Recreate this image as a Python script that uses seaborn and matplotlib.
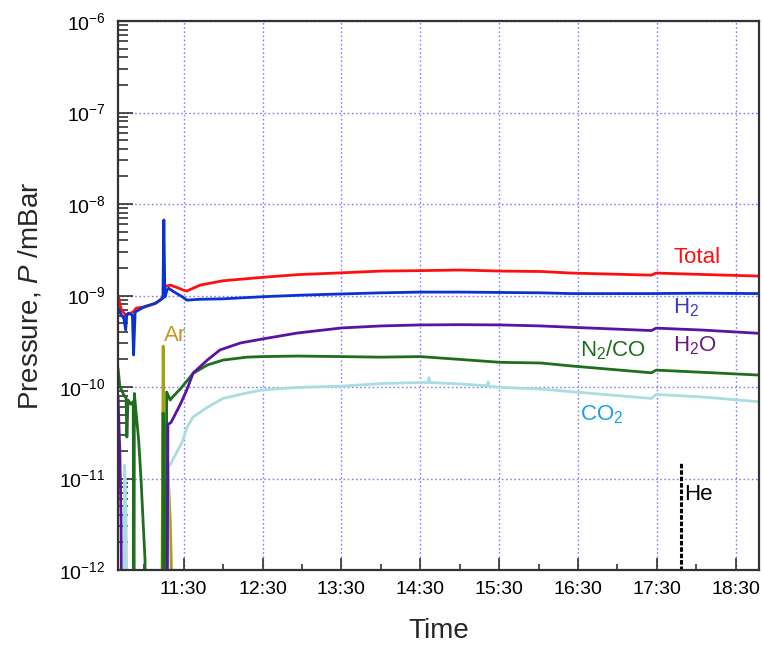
import numpy as np
import pandas as pd
import matplotlib
matplotlib.use("Agg")
import matplotlib.pyplot as plt
import matplotlib.ticker as mticker
import seaborn as sns

# ---------------- data (time in decimal hours, pressure in mBar) ----------------
FLOOR = 1e-13  # below the visible range

total_t = [10.67, 10.71, 10.77, 10.82, 10.86, 10.90, 11.01, 11.14, 11.20, 11.24, 11.25, 11.27,
           11.33, 11.43, 11.49, 11.54, 11.71, 12.00, 12.50, 12.94, 13.50, 14.00, 14.50, 15.01,
           15.52, 16.03, 16.41, 17.43, 17.49, 18.06, 18.80]
total_p = [9.8e-10, 6.9e-10, 6.1e-10, 6.4e-10, 6.6e-10, 7.3e-10, 7.5e-10, 8.2e-10, 8.9e-10, 9.6e-10,
           1.15e-9, 1.26e-9, 1.30e-9, 1.21e-9, 1.15e-9, 1.12e-9, 1.30e-9, 1.45e-9, 1.58e-9, 1.69e-9,
           1.77e-9, 1.85e-9, 1.87e-9, 1.90e-9, 1.85e-9, 1.83e-9, 1.76e-9, 1.67e-9, 1.76e-9, 1.70e-9,
           1.63e-9]

h2_t = [10.67, 10.71, 10.74, 10.765, 10.78, 10.80, 10.85, 10.865, 10.885, 11.01, 11.14, 11.20,
        11.237, 11.249, 11.262, 11.29, 11.31, 11.36, 11.43, 11.49, 11.54, 11.71, 12.00, 12.50,
        13.00, 13.50, 14.00, 14.50, 15.01, 15.52, 16.03, 16.41, 17.43, 18.06, 18.80]
h2_p = [7.3e-10, 6.1e-10, 5.7e-10, 4.2e-10, 6.2e-10, 6.4e-10, 6.1e-10, 2.24e-10, 6.6e-10, 7.6e-10,
        8.2e-10, 8.9e-10, 9.4e-10, 6.7e-9, 9.6e-10, 1.15e-9, 1.20e-9, 1.12e-9, 1.03e-9, 9.6e-10,
        8.9e-10, 9.1e-10, 9.2e-10, 9.7e-10, 1.01e-9, 1.04e-9, 1.07e-9, 1.09e-9, 1.09e-9, 1.08e-9,
        1.07e-9, 1.05e-9, 1.05e-9, 1.06e-9, 1.05e-9]

h2o_t = [10.668, 10.69, 10.706, 10.715, 11.29, 11.30, 11.34, 11.455, 11.54, 11.62, 11.80, 11.96,
         12.22, 12.50, 12.94, 13.50, 14.00, 14.50, 15.01, 15.52, 16.03, 16.41, 17.43, 17.49,
         18.06, 18.80]
h2o_p = [7.8e-11, 2.05e-11, 3.8e-12, FLOOR, FLOOR, 3.9e-11, 4.1e-11, 6.4e-11, 9.3e-11, 1.42e-10,
         1.97e-10, 2.54e-10, 3.03e-10, 3.35e-10, 3.89e-10, 4.42e-10, 4.65e-10, 4.77e-10, 4.80e-10,
         4.77e-10, 4.65e-10, 4.50e-10, 4.14e-10, 4.40e-10, 4.20e-10, 3.86e-10]

n2co_t = [10.668, 10.69, 10.74, 10.77, 10.78, 10.795, 10.83, 10.86, 10.87, 10.875, 10.90, 10.93,
          10.96, 10.985, 11.01, 11.02, 11.23, 11.24, 11.25, 11.275, 11.285, 11.33, 11.35, 11.47,
          11.62, 11.80, 12.00, 12.30, 12.50, 12.94, 13.50, 14.00, 14.50, 15.01, 15.52, 16.03,
          16.41, 17.43, 17.49, 18.06, 18.80]
n2co_p = [1.61e-10, 1.03e-10, 8.2e-11, 7.6e-11, 2.84e-11, 7.2e-11, 6.5e-11, 6.9e-11, FLOOR, 8.5e-11,
          4.9e-11, 2.6e-11, 9.6e-12, 3.5e-12, 1.3e-12, FLOOR, FLOOR, 5.2e-11, FLOOR, FLOOR,
          8.8e-11, 7.2e-11, 7.6e-11, 9.8e-11, 1.41e-10, 1.74e-10, 1.97e-10, 2.12e-10, 2.15e-10,
          2.18e-10, 2.15e-10, 2.12e-10, 2.15e-10, 2.00e-10, 1.86e-10, 1.83e-10, 1.70e-10, 1.43e-10,
          1.53e-10, 1.45e-10, 1.35e-10]

co2_t = [10.745, 10.75, 10.76, 10.77, 10.79, 11.30, 11.305, 11.33, 11.36, 11.49, 11.54, 11.62,
         11.80, 12.00, 12.30, 12.50, 12.94, 13.50, 14.00, 14.50, 14.60, 14.61, 14.62, 15.01,
         15.35, 15.36, 15.37, 15.52, 16.03, 16.41, 17.43, 17.49, 18.06, 18.80]
co2_p = [FLOOR, 1.4e-11, 9.6e-12, 3.5e-12, FLOOR, FLOOR, 1.48e-11, 1.41e-11, 1.59e-11, 2.6e-11,
         3.6e-11, 4.7e-11, 6.0e-11, 7.5e-11, 8.6e-11, 9.3e-11, 9.9e-11, 1.02e-10, 1.09e-10,
         1.12e-10, 1.12e-10, 1.27e-10, 1.12e-10, 1.08e-10, 1.03e-10, 1.14e-10, 1.02e-10, 9.9e-11,
         9.5e-11, 8.9e-11, 7.5e-11, 8.3e-11, 7.8e-11, 6.9e-11]

ar_t = [11.22, 11.24, 11.25, 11.28, 11.30, 11.33, 11.345, 11.35]
ar_p = [FLOOR, 2.8e-10, 4.4e-11, 2.6e-11, 1.34e-11, 3.5e-12, 1.0e-12, FLOOR]

he_t = [17.81, 17.81]
he_p = [FLOOR, 1.5e-11]

tick_hours = [11.5, 12.5, 13.5, 14.5, 15.5, 16.5, 17.5, 18.5]
minor_hours = [11, 12, 13, 14, 15, 16, 17, 18]
decades = [-12, -11, -10, -9, -8, -7, -6]

# ---------------- style ----------------
sns.set_style("white")
plt.rcParams["font.family"] = ["Liberation Sans", "DejaVu Sans"]
plt.rcParams["mathtext.fontset"] = "custom"
plt.rcParams["mathtext.rm"] = "Liberation Sans"
plt.rcParams["mathtext.it"] = "Liberation Sans:italic"
plt.rcParams["mathtext.bf"] = "Liberation Sans:bold"

fig = plt.figure(figsize=(7.63, 6.53), dpi=100)
ax = fig.add_axes([0.1547, 0.1271, 0.9943 - 0.1547, 0.9678 - 0.1271])

series = [
    ("Ar", ar_t, ar_p, "#a8a010"),
    ("CO2", co2_t, co2_p, "#a9dde0"),
    ("N2/CO", n2co_t, n2co_p, "#1e6e1e"),
    ("H2O", h2o_t, h2o_p, "#5a14a5"),
    ("Total", total_t, total_p, "#ff1010"),
    ("H2", h2_t, h2_p, "#0a32d2"),
]
for name, t, p, c in series:
    df = pd.DataFrame({"time": t, "pressure": p})
    sns.lineplot(data=df, x="time", y="pressure", ax=ax, color=c, lw=2.0,
                 estimator=None, sort=False, legend=False)

df_he = pd.DataFrame({"time": he_t, "pressure": he_p})
sns.lineplot(data=df_he, x="time", y="pressure", ax=ax, color="black", lw=2.2,
             estimator=None, sort=False, legend=False, linestyle=(0, (1.5, 0.6)))

ax.set_yscale("log")
ax.set_ylim(1e-12, 1e-6)
ax.set_xlim(10.668, 18.79)

major_y = [10.0 ** d for d in decades]
minor_y = [m * 10.0 ** d for d in decades[:-1] for m in range(2, 10)]
ax.yaxis.set_major_locator(mticker.FixedLocator(major_y))
ax.yaxis.set_minor_locator(mticker.FixedLocator(minor_y))
ax.yaxis.set_minor_formatter(mticker.NullFormatter())
ax.yaxis.set_major_formatter(mticker.FuncFormatter(
    lambda v, pos: r"$10^{%d}$" % int(round(np.log10(v)))))

ax.xaxis.set_major_locator(mticker.FixedLocator(tick_hours))
ax.xaxis.set_minor_locator(mticker.FixedLocator(minor_hours))
ax.xaxis.set_major_formatter(mticker.FuncFormatter(
    lambda h, pos: "%d:%02d" % (int(h), int(round((h % 1) * 60)))))

ax.tick_params(axis="both", which="both", direction="in", top=False, right=False,
               left=True, bottom=True, colors="#222222", labelcolor="black", width=1.1)
ax.tick_params(axis="x", which="major", length=9, labelsize=14, pad=8)
ax.tick_params(axis="x", which="minor", length=4)
ax.tick_params(axis="y", which="major", length=11, labelsize=14, pad=9)
ax.tick_params(axis="y", which="minor", length=7)

ax.grid(True, which="major", color="#8080ff", linestyle=(0, (1.2, 1.8)), lw=1.0)
for s in ax.spines.values():
    s.set_linewidth(1.6)
    s.set_color("#333333")

ax.set_xlabel("Time", fontsize=20, labelpad=14)
ax.set_ylabel(r"Pressure, $P$ /mBar", fontsize=20, labelpad=11)

lab_kw = dict(fontsize=16, ha="left", va="baseline")
ax.text(17.71, 2.25e-9, "Total", color="#ff1010", **lab_kw)
ax.text(17.71, 6.4e-10, r"H$_2$", color="#3a3ad0", **lab_kw)
ax.text(17.71, 2.43e-10, r"H$_2$O", color="#6a1a80", **lab_kw)
ax.text(16.52, 2.14e-10, r"N$_2$/CO", color="#1e6e1e", **lab_kw)
ax.text(16.52, 4.36e-11, r"CO$_2$", color="#1aa0e8", **lab_kw)
ax.text(11.245, 3.2e-10, "Ar", color="#c8962a", **lab_kw)
ax.text(17.84, 5.8e-12, "He", color="black", **lab_kw)

fig.savefig("out.png", dpi=100)
